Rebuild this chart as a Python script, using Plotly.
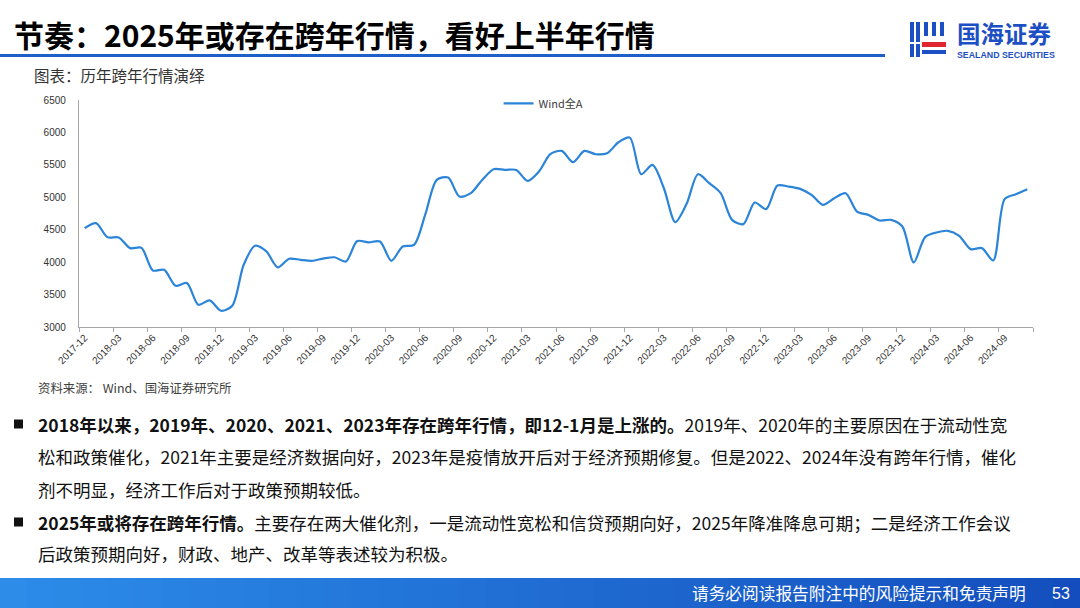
import pandas as pd
import plotly.graph_objects as go

# ---------------- data ----------------
months = pd.date_range("2017-12-01", "2024-11-01", freq="MS").strftime("%Y-%m").tolist()
wind_all_a = [4524, 4601, 4386, 4380, 4216, 4220, 3872, 3882, 3636, 3677,
              3343, 3410, 3251, 3328, 3959, 4252, 4165, 3918, 4052, 4036,
              4021, 4055, 4075, 4010, 4325, 4305, 4318, 4021, 4241, 4267,
              4740, 5268, 5304, 5011, 5063, 5268, 5433, 5422, 5422, 5253,
              5396, 5665, 5715, 5541, 5715, 5664, 5679, 5849, 5920, 5356,
              5499, 5140, 4617, 4899, 5356, 5217, 5063, 4652, 4586, 4919,
              4817, 5181, 5165, 5130, 5037, 4883, 4986, 5063, 4780, 4729,
              4642, 4652, 4550, 3995, 4386, 4457, 4483, 4406, 4201, 4216,
              4026, 4971, 5048, 5125]
series_name = "Wind全A"
y_ticks = [3000, 3500, 4000, 4500, 5000, 5500, 6000, 6500]

title_text = "节奏：2025年或存在跨年行情，看好上半年行情"
chart_caption = "图表：历年跨年行情演绎"
source_text = "资料来源： Wind、国海证券研究所"
body_lines = [
    "<b>2018年以来，2019年、2020、2021、2023年存在跨年行情，即12-1月是上涨的。</b>2019年、2020年的主要原因在于流动性宽",
    "松和政策催化，2021年主要是经济数据向好，2023年是疫情放开后对于经济预期修复。但是2022、2024年没有跨年行情，催化",
    "剂不明显，经济工作后对于政策预期较低。",
    "<b>2025年或将存在跨年行情。</b>主要存在两大催化剂，一是流动性宽松和信贷预期向好，2025年降准降息可期；二是经济工作会议",
    "后政策预期向好，财政、地产、改革等表述较为积极。",
]
footer_text = "请务必阅读报告附注中的风险提示和免责声明"
page_no = "53"

# ---------------- layout helpers ----------------
W, H = 1080, 608
L, R, T, B = 79, 47, 100, 281
PW, PH = W - L - R, H - T - B


def px(x):
    return (x - L) / PW


def py(y):
    return (H - B - y) / PH


CJK = "Noto Sans CJK SC"
NUM = "Liberation Sans"
LINE_BLUE = "#2B84D8"
AXIS_GREY = "#A6A6A6"

fig = go.Figure()
fig.add_trace(go.Scatter(
    x=months, y=wind_all_a, mode="lines", name=series_name,
    line=dict(color=LINE_BLUE, width=2.2, shape="spline", smoothing=0.8),
))

annotations = []
shapes = []

# title
annotations.append(dict(x=px(12), y=py(34), xref="paper", yref="paper", xanchor="left", yanchor="middle",
                        text="<b>" + title_text + "</b>", showarrow=False,
                        font=dict(family=CJK, size=30, color="#000000")))
# underline of title
shapes.append(dict(type="line", xref="paper", yref="paper", x0=px(0), x1=px(885), y0=py(55.5), y1=py(55.5),
                   line=dict(color="#1E5FC8", width=3)))
# logo
annotations.append(dict(x=px(955), y=py(32.5), xref="paper", yref="paper", xanchor="left", yanchor="middle",
                        text="<b>国海证券</b>", showarrow=False,
                        font=dict(family=CJK, size=23.5, color="#1D4FC4")))
annotations.append(dict(x=px(1005.5), y=py(54.5), xref="paper", yref="paper", xanchor="center", yanchor="middle",
                        text="<b>SEALAND SECURITIES</b>", showarrow=False,
                        font=dict(family=NUM, size=8.8, color="#1D4FC4")))
# logo icon (approximation)
icon_rects = [
    (910, 22, 914, 42, "#1D4FC4"), (916, 22, 920, 42, "#1D4FC4"),
    (910, 44, 914, 57, "#1D4FC4"), (916, 44, 920, 57, "#1D4FC4"),
    (924, 22, 928, 36, "#1D4FC4"), (932, 22, 936, 36, "#1D4FC4"), (940, 22, 944, 36, "#1D4FC4"),
    (922, 42, 946, 47, "#E0262E"), (922, 50, 946, 54, "#1D4FC4"),
]
for x0, y0, x1, y1, c in icon_rects:
    shapes.append(dict(type="rect", xref="paper", yref="paper", x0=px(x0), x1=px(x1), y0=py(y1), y1=py(y0),
                       line=dict(width=0), fillcolor=c))

# caption
annotations.append(dict(x=px(32), y=py(75), xref="paper", yref="paper", xanchor="left", yanchor="middle",
                        text=chart_caption, showarrow=False, font=dict(family=CJK, size=15.5, color="#333333")))
# source
annotations.append(dict(x=px(36), y=py(388), xref="paper", yref="paper", xanchor="left", yanchor="middle",
                        text=source_text, showarrow=False, font=dict(family=CJK, size=12.4, color="#404040")))

# body text
line_y = [424, 456, 489, 522, 553]
for txt, yy in zip(body_lines, line_y):
    annotations.append(dict(x=px(36), y=py(yy), xref="paper", yref="paper", xanchor="left", yanchor="middle",
                            text=txt, showarrow=False, font=dict(family=CJK, size=17.5, color="#111111")))
for yy in (line_y[0], line_y[3]):
    shapes.append(dict(type="rect", xref="paper", yref="paper", x0=px(14), x1=px(23), y0=py(yy + 4.5),
                       y1=py(yy - 4.5), line=dict(width=0), fillcolor="#111111"))

# footer gradient bar
n_steps = 40
c0 = (44, 140, 232)
c1 = (20, 78, 190)
for k in range(n_steps):
    t = k / (n_steps - 1)
    col = "rgb(%d,%d,%d)" % tuple(round(a + (b - a) * t) for a, b in zip(c0, c1))
    shapes.append(dict(type="rect", xref="paper", yref="paper",
                       x0=px(W * k / n_steps), x1=px(W * (k + 1) / n_steps + 1),
                       y0=py(608), y1=py(578), line=dict(width=0), fillcolor=col, layer="below"))
annotations.append(dict(x=px(1028), y=py(593), xref="paper", yref="paper", xanchor="right", yanchor="middle",
                        text=footer_text, showarrow=False, font=dict(family=CJK, size=16.7, color="#FFFFFF")))
annotations.append(dict(x=px(1061), y=py(593), xref="paper", yref="paper", xanchor="center", yanchor="middle",
                        text=page_no, showarrow=False, font=dict(family=NUM, size=16, color="#FFFFFF")))

fig.update_layout(
    width=W, height=H,
    margin=dict(l=L, r=R, t=T, b=B, pad=0),
    paper_bgcolor="white", plot_bgcolor="white",
    showlegend=True,
    legend=dict(x=0.487, y=0.985, xanchor="center", yanchor="middle", orientation="h",
                font=dict(family=CJK, size=11, color="#404040"), bgcolor="rgba(0,0,0,0)",
                itemwidth=30),
    annotations=annotations,
    shapes=shapes,
    xaxis=dict(
        type="category", range=[-0.5, len(months) - 0.5],
        tickmode="linear", tick0=0, dtick=3, tickson="boundaries",
        ticks="outside", ticklen=4, tickcolor=AXIS_GREY, tickwidth=1,
        showline=True, linecolor=AXIS_GREY, linewidth=1.3,
        showgrid=False, zeroline=False, tickangle=-45,
        tickfont=dict(family=NUM, size=10, color="#333333"),
    ),
    yaxis=dict(
        range=[3000, 6500], tickmode="array", tickvals=y_ticks, ticktext=[str(v) for v in y_ticks],
        ticks="", showline=True, linecolor=AXIS_GREY, linewidth=1.3,
        showgrid=False, zeroline=False, ticklabelstandoff=10,
        tickfont=dict(family=NUM, size=10, color="#333333"),
    ),
)

fig.write_html("out.html")
